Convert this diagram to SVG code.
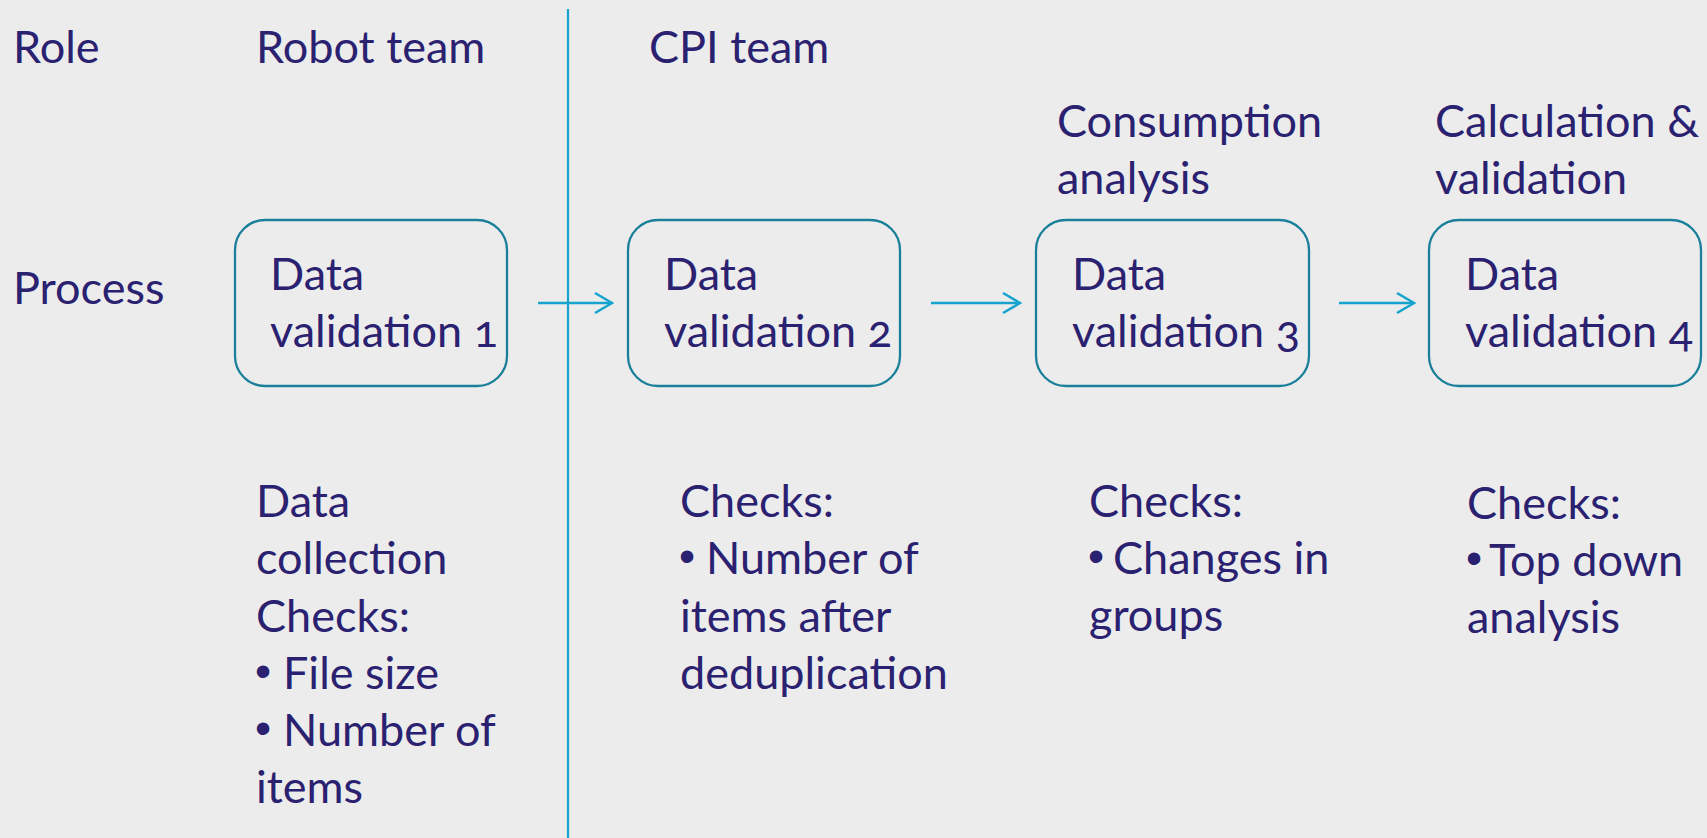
<svg xmlns="http://www.w3.org/2000/svg" width="1707" height="838" viewBox="0 0 1707 838">
  <defs>
    <style>
      .t { font-family: Lato, "Liberation Sans", sans-serif; font-size: 45px; fill: #2a2170; font-variant-numeric: oldstyle-nums; }
      .b { font-family: "Liberation Sans", sans-serif; font-size: 46px; fill: #2a2170; }
      .box { fill: none; stroke: #1a7f9a; stroke-width: 2.3; }
      .conn { stroke: #16a4cf; stroke-width: 2.6; fill: none; }
    </style>
    <marker id="chev" viewBox="0 0 20 24" refX="18" refY="12" markerWidth="20" markerHeight="24" markerUnits="userSpaceOnUse" orient="auto">
      <path d="M1,2 L18,12 L1,22" fill="none" stroke="#16a4cf" stroke-width="2.6"/>
    </marker>
  </defs>

  <rect width="1707" height="838" fill="#ececec"/>

  <!-- row and column headers -->
  <g id="headers">
    <text class="t" x="13" y="63">Role</text>
    <text class="t" x="13" y="304">Process</text>
    <text class="t" x="256" y="63">Robot team</text>
    <text class="t" x="649" y="63">CPI team</text>
    <text class="t" x="1057" y="137">Consumption</text>
    <text class="t" x="1057" y="194">analysis</text>
    <text class="t" x="1435" y="137">Calculation &amp;</text>
    <text class="t" x="1435" y="194">validation</text>
  </g>

  <!-- team divider -->
  <line x1="568" y1="9" x2="568" y2="838" stroke="#16a4cf" stroke-width="2.2"/>

  <!-- process steps -->
  <g id="step1">
    <rect class="box" x="235" y="220" width="272" height="166" rx="30"/>
    <text class="t" x="270" y="290">Data</text>
    <text class="t" x="270" y="347">validation 1</text>
  </g>
  <g id="step2">
    <rect class="box" x="628" y="220" width="272" height="166" rx="30"/>
    <text class="t" x="664" y="290">Data</text>
    <text class="t" x="664" y="347">validation 2</text>
  </g>
  <g id="step3">
    <rect class="box" x="1036" y="220" width="273" height="166" rx="30"/>
    <text class="t" x="1072" y="290">Data</text>
    <text class="t" x="1072" y="347">validation 3</text>
  </g>
  <g id="step4">
    <rect class="box" x="1429" y="220" width="272" height="166" rx="30"/>
    <text class="t" x="1465" y="290">Data</text>
    <text class="t" x="1465" y="347">validation 4</text>
  </g>

  <!-- flow between steps -->
  <g id="connectors">
    <line class="conn" x1="538" y1="303" x2="612" y2="303" marker-end="url(#chev)"/>
    <line class="conn" x1="931" y1="303" x2="1020" y2="303" marker-end="url(#chev)"/>
    <line class="conn" x1="1339" y1="303" x2="1414" y2="303" marker-end="url(#chev)"/>
  </g>

  <!-- checks per step -->
  <g id="checks1">
    <text class="t" x="256" y="517">Data</text>
    <text class="t" x="256" y="574">collection</text>
    <text class="t" x="256" y="632">Checks:</text>
    <text class="b" x="255" y="687">•</text><text class="t" x="283" y="689">File size</text>
    <text class="b" x="255" y="744">•</text><text class="t" x="283" y="746">Number of</text>
    <text class="t" x="256" y="803">items</text>
  </g>
  <g id="checks2">
    <text class="t" x="680" y="517">Checks:</text>
    <text class="b" x="679" y="572">•</text><text class="t" x="706" y="574">Number of</text>
    <text class="t" x="680" y="632">items after</text>
    <text class="t" x="680" y="689">deduplication</text>
  </g>
  <g id="checks3">
    <text class="t" x="1089" y="517">Checks:</text>
    <text class="b" x="1088" y="572">•</text><text class="t" x="1113" y="574">Changes in</text>
    <text class="t" x="1089" y="631">groups</text>
  </g>
  <g id="checks4">
    <text class="t" x="1467" y="519">Checks:</text>
    <text class="b" x="1466" y="574">•</text><text class="t" x="1489" y="576">Top down</text>
    <text class="t" x="1467" y="633">analysis</text>
  </g>
</svg>
